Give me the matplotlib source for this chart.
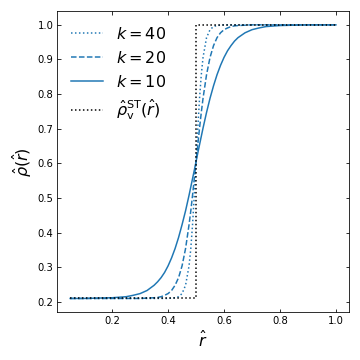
import numpy as np
import matplotlib.pyplot as plt

# values
r = [0.05, 0.1, 0.15, 0.2, 0.25, 0.275, 0.3, 0.325, 0.35, 0.3625, 0.375, 0.3875,
     0.4, 0.4125, 0.425, 0.4375, 0.45, 0.4625, 0.475, 0.48125, 0.4875, 0.49375,
     0.5, 0.50625, 0.5125, 0.51875, 0.525, 0.5375, 0.55, 0.5625, 0.575, 0.5875,
     0.6, 0.6125, 0.625, 0.6375, 0.65, 0.675, 0.7, 0.725, 0.75, 0.8, 0.85, 0.9,
     0.95, 1.0]

rho_k40 = [0.210, 0.210, 0.210, 0.210, 0.210, 0.210, 0.210, 0.210, 0.210, 0.210,
           0.210, 0.210, 0.210, 0.211, 0.212, 0.215, 0.224, 0.248, 0.304, 0.354,
           0.423, 0.508, 0.605, 0.702, 0.788, 0.856, 0.906, 0.963, 0.986, 0.995,
           0.998, 0.999, 1.000, 1.000, 1.000, 1.000, 1.000, 1.000, 1.000, 1.000,
           1.000, 1.000, 1.000, 1.000, 1.000, 1.000]

rho_k20 = [0.210, 0.210, 0.210, 0.210, 0.210, 0.210, 0.210, 0.211, 0.212, 0.213,
           0.215, 0.219, 0.224, 0.233, 0.248, 0.270, 0.304, 0.354, 0.423, 0.463,
           0.508, 0.556, 0.605, 0.654, 0.702, 0.747, 0.788, 0.856, 0.906, 0.940,
           0.963, 0.977, 0.986, 0.991, 0.995, 0.997, 0.998, 0.999, 1.000, 1.000,
           1.000, 1.000, 1.000, 1.000, 1.000, 1.000]

rho_k10 = [0.210, 0.210, 0.211, 0.212, 0.215, 0.219, 0.224, 0.233, 0.248, 0.258,
           0.270, 0.285, 0.304, 0.327, 0.354, 0.386, 0.423, 0.463, 0.508, 0.532,
           0.556, 0.580, 0.605, 0.630, 0.654, 0.678, 0.702, 0.747, 0.788, 0.824,
           0.856, 0.883, 0.906, 0.925, 0.940, 0.953, 0.963, 0.977, 0.986, 0.991,
           0.995, 0.998, 0.999, 1.000, 1.000, 1.000]

# step function
r_step = [0.05, 0.5, 0.5, 1.0]
rho_step = [0.21, 0.21, 1.0, 1.0]

fig, ax = plt.subplots(figsize=(5, 5), dpi=72)
fig.subplots_adjust(left=0.158, right=0.970, top=0.969, bottom=0.133)

ax.plot(r, rho_k40, ':', color='C0', lw=1.5, label=r'$k = 40$')
ax.plot(r, rho_k20, '--', color='C0', lw=1.5, label=r'$k = 20$')
ax.plot(r, rho_k10, '-', color='C0', lw=1.5, label=r'$k = 10$')
ax.plot(r_step, rho_step, ':', color='black', lw=1.5,
        label=r'$\hat{\rho}_{\rm v}^{\rm ST}(\hat{r})$')

ax.set_xlabel(r'$\hat{r}$', fontsize=16)
ax.set_ylabel(r'$\hat{\rho}(\hat{r})$', fontsize=16)
ax.tick_params(direction='in', top=True, right=True, labelsize=10)
ax.legend(loc='upper left', frameon=False, fontsize=16)

plt.savefig('out.png', dpi=72)
